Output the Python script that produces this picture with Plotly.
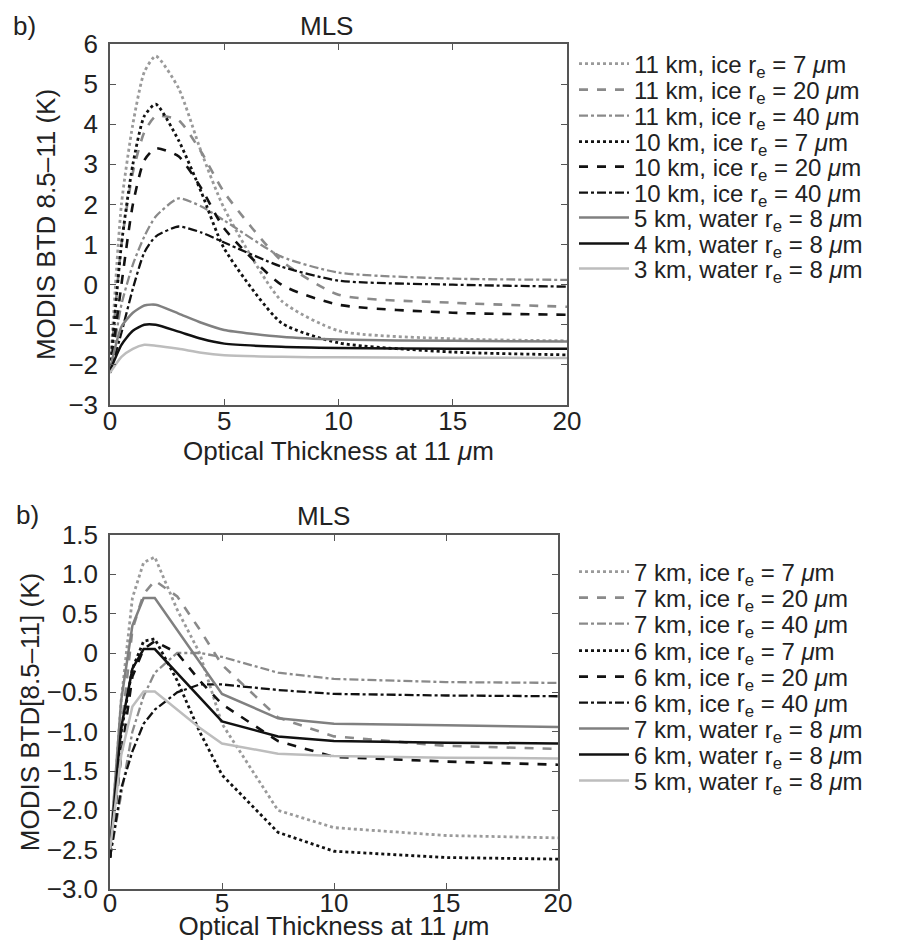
import plotly.graph_objects as go

# ---------------- data ----------------
tau = [0, 0.5, 1, 1.5, 2, 3, 4, 5, 7.5, 10, 15, 20]

# Top panel
top_names = [
    "11 km, ice r<sub>e</sub> = 7 <i>μ</i>m",
    "11 km, ice r<sub>e</sub> = 20 <i>μ</i>m",
    "11 km, ice r<sub>e</sub> = 40 <i>μ</i>m",
    "10 km, ice r<sub>e</sub> = 7 <i>μ</i>m",
    "10 km, ice r<sub>e</sub> = 20 <i>μ</i>m",
    "10 km, ice r<sub>e</sub> = 40 <i>μ</i>m",
    "5 km, water r<sub>e</sub> = 8 <i>μ</i>m",
    "4 km, water r<sub>e</sub> = 8 <i>μ</i>m",
    "3 km, water r<sub>e</sub> = 8 <i>μ</i>m",
]
top_11km_ice7 = [-2.2, 2.0, 4.0, 5.3, 5.7, 4.9, 3.3, 1.9, -0.4, -1.15, -1.35, -1.4]
top_11km_ice20 = [-2.2, 1.0, 2.8, 3.8, 4.2, 4.1, 3.3, 2.3, 0.6, -0.25, -0.45, -0.55]
top_11km_ice40 = [-2.2, -0.5, 0.5, 1.2, 1.7, 2.15, 1.95, 1.6, 0.7, 0.3, 0.15, 0.12]
top_10km_ice7 = [-2.2, 1.0, 3.0, 4.2, 4.5, 3.6, 2.3, 0.9, -0.95, -1.45, -1.68, -1.75]
top_10km_ice20 = [-2.2, 0.0, 2.0, 3.1, 3.4, 3.2, 2.4, 1.4, 0.0, -0.5, -0.7, -0.75]
top_10km_ice40 = [-2.2, -1.2, -0.1, 0.8, 1.2, 1.45, 1.3, 1.05, 0.45, 0.1, 0.0, -0.05]
top_5km_water8 = [-2.1, -1.05, -0.7, -0.52, -0.5, -0.72, -0.95, -1.13, -1.3, -1.37, -1.4, -1.42]
top_4km_water8 = [-2.15, -1.5, -1.15, -1.0, -1.0, -1.17, -1.35, -1.47, -1.55, -1.58, -1.6, -1.6]
top_3km_water8 = [-2.2, -1.8, -1.6, -1.5, -1.52, -1.6, -1.7, -1.76, -1.8, -1.81, -1.82, -1.83]

# Bottom panel
bot_names = [
    "7 km, ice r<sub>e</sub> = 7 <i>μ</i>m",
    "7 km, ice r<sub>e</sub> = 20 <i>μ</i>m",
    "7 km, ice r<sub>e</sub> = 40 <i>μ</i>m",
    "6 km, ice r<sub>e</sub> = 7 <i>μ</i>m",
    "6 km, ice r<sub>e</sub> = 20 <i>μ</i>m",
    "6 km, ice r<sub>e</sub> = 40 <i>μ</i>m",
    "7 km, water r<sub>e</sub> = 8 <i>μ</i>m",
    "6 km, water r<sub>e</sub> = 8 <i>μ</i>m",
    "5 km, water r<sub>e</sub> = 8 <i>μ</i>m",
]
bot_7km_ice7 = [-2.6, -0.6, 0.7, 1.15, 1.22, 0.55, 0.0, -0.9, -2.0, -2.22, -2.32, -2.35]
bot_7km_ice20 = [-2.6, -1.0, 0.3, 0.75, 0.92, 0.72, 0.3, -0.15, -0.82, -1.06, -1.18, -1.22]
bot_7km_ice40 = [-2.6, -1.8, -1.0, -0.55, -0.25, 0.0, 0.0, -0.05, -0.25, -0.33, -0.37, -0.38]
bot_6km_ice7 = [-2.6, -1.0, -0.2, 0.15, 0.18, -0.35, -1.0, -1.55, -2.28, -2.52, -2.6, -2.62]
bot_6km_ice20 = [-2.6, -1.3, -0.3, 0.05, 0.15, 0.0, -0.35, -0.65, -1.12, -1.32, -1.38, -1.42]
bot_6km_ice40 = [-2.6, -1.72, -1.25, -0.9, -0.72, -0.5, -0.4, -0.4, -0.47, -0.52, -0.54, -0.55]
bot_7km_water8 = [-2.5, -0.6, 0.35, 0.7, 0.7, 0.29, -0.11, -0.52, -0.83, -0.9, -0.92, -0.94]
bot_6km_water8 = [-2.5, -0.95, -0.2, 0.05, 0.05, -0.26, -0.56, -0.87, -1.06, -1.12, -1.14, -1.15]
bot_5km_water8 = [-2.5, -1.3, -0.68, -0.49, -0.49, -0.72, -0.95, -1.15, -1.28, -1.31, -1.33, -1.34]

top_series = [top_11km_ice7, top_11km_ice20, top_11km_ice40,
              top_10km_ice7, top_10km_ice20, top_10km_ice40,
              top_5km_water8, top_4km_water8, top_3km_water8]
bot_series = [bot_7km_ice7, bot_7km_ice20, bot_7km_ice40,
              bot_6km_ice7, bot_6km_ice20, bot_6km_ice40,
              bot_7km_water8, bot_6km_water8, bot_5km_water8]

x_ticks = [0, 5, 10, 15, 20]
top_y_ticks = [-3, -2, -1, 0, 1, 2, 3, 4, 5, 6]
top_y_text = ["−3", "−2", "−1", "0", "1", "2", "3", "4", "5", "6"]
bot_y_ticks = [-3.0, -2.5, -2.0, -1.5, -1.0, -0.5, 0, 0.5, 1.0, 1.5]
bot_y_text = ["−3.0", "−2.5", "−2.0", "−1.5", "−1.0", "−0.5", "0", "0.5", "1.0", "1.5"]

# ---------------- styles ----------------
colors = ["#9a9a9a", "#8a8a8a", "#8a8a8a", "#111111", "#111111", "#111111",
          "#808080", "#111111", "#bdbdbd"]
dashes = ["dot", "dash", "dashdot", "dot", "dash", "dashdot", "solid", "solid", "solid"]
widths = [2.8, 2.6, 2.3, 2.8, 2.6, 2.3, 2.5, 2.5, 2.5]

FONT = "Liberation Sans, Arial, Helvetica, sans-serif"
FS = 26
OFF = 8                      # browser body margin
W, H = 913 - 2 * OFF, 949 - 2 * OFF

# legend row centres (window pixels from top)
top_leg_rows = [64, 90, 116, 142, 167, 193, 218, 244, 269]
bot_leg_rows = [572, 598, 624, 651, 677, 703, 729, 755, 781]


def px_x(p):
    return (p - OFF) / W


def px_y(p):
    return 1 - (p - OFF) / H


fig = go.Figure()
k = 0
for name, ys, c, d, w in zip(top_names, top_series, colors, dashes, widths):
    k += 1
    lid = "legend" if k == 1 else f"legend{k}"
    fig.add_trace(go.Scatter(x=tau, y=ys, mode="lines", name=name, showlegend=True,
                             line=dict(color=c, dash=d, width=w, shape="spline", smoothing=0.6),
                             xaxis="x", yaxis="y", legend=lid))
for name, ys, c, d, w in zip(bot_names, bot_series, colors, dashes, widths):
    k += 1
    lid = f"legend{k}"
    fig.add_trace(go.Scatter(x=tau, y=ys, mode="lines", name=name, showlegend=True,
                             line=dict(color=c, dash=d, width=w),
                             xaxis="x2", yaxis="y2", legend=lid))

legends = {}
for i, row in enumerate(top_leg_rows + bot_leg_rows):
    lid = "legend" if i == 0 else f"legend{i + 1}"
    legends[lid] = dict(x=px_x(574), y=px_y(row), xanchor="left", yanchor="middle",
                        font=dict(size=24, family=FONT, color="#222222"),
                        bgcolor="rgba(0,0,0,0)", itemwidth=50, borderwidth=0)

axis_common = dict(showline=True, linecolor="#555555", linewidth=1.5, mirror="ticks",
                   ticks="inside", ticklen=6, tickcolor="#555555", showgrid=False,
                   zeroline=False, automargin=False,
                   tickfont=dict(size=FS, color="#222222", family=FONT))

fig.update_layout(
    width=W, height=H,
    margin=dict(l=0, r=0, t=0, b=0, autoexpand=False),
    showlegend=True,
    paper_bgcolor="white", plot_bgcolor="white",
    font=dict(family=FONT, size=FS, color="#222222"),
    xaxis=dict(domain=[px_x(110), px_x(567)], range=[0, 20], tickvals=x_ticks,
               anchor="y", ticklabelstandoff=-8,
               title=dict(text="Optical Thickness at 11 <i>μ</i>m",
                          font=dict(size=FS), standoff=0), **axis_common),
    yaxis=dict(domain=[px_y(405), px_y(44)], range=[-3, 6], tickvals=top_y_ticks,
               ticktext=top_y_text, anchor="x", ticklabelstandoff=5,
               title=dict(text="MODIS BTD 8.5–11 (K)", font=dict(size=FS), standoff=5),
               **axis_common),
    xaxis2=dict(domain=[px_x(110), px_x(558)], range=[0, 20], tickvals=x_ticks,
                anchor="y2", ticklabelstandoff=-10,
                title=dict(text="Optical Thickness at 11 <i>μ</i>m",
                           font=dict(size=FS), standoff=0), **axis_common),
    yaxis2=dict(domain=[px_y(889), px_y(535)], range=[-3, 1.5], tickvals=bot_y_ticks,
                ticktext=bot_y_text, anchor="x2", ticklabelstandoff=5,
                title=dict(text="MODIS BTD[8.5–11] (K)", font=dict(size=FS), standoff=0),
                **axis_common),
    annotations=[
        dict(text="b)", x=px_x(11), y=px_y(26), xref="paper", yref="paper",
             showarrow=False, xanchor="left", yanchor="middle", font=dict(size=FS)),
        dict(text="b)", x=px_x(14), y=px_y(515), xref="paper", yref="paper",
             showarrow=False, xanchor="left", yanchor="middle", font=dict(size=FS)),
        dict(text="MLS", x=px_x(326), y=px_y(26), xref="paper", yref="paper",
             showarrow=False, xanchor="center", yanchor="middle", font=dict(size=FS)),
        dict(text="MLS", x=px_x(323), y=px_y(516), xref="paper", yref="paper",
             showarrow=False, xanchor="center", yanchor="middle", font=dict(size=FS)),
    ],
    **legends,
)

fig.write_html("out.html")
